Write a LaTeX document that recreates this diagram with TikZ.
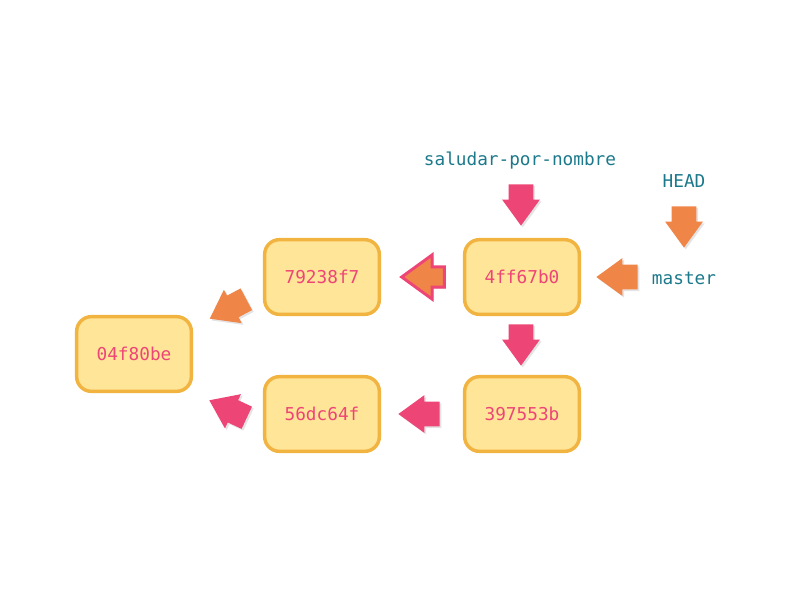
\documentclass[tikz,border=0pt]{standalone}
\usepackage{fontspec}
\setmonofont{DejaVu Sans Mono}
\usetikzlibrary{shapes.arrows,shadows}

\definecolor{commitfill}{HTML}{FFE598}
\definecolor{commitline}{HTML}{F2B441}
\definecolor{commitpink}{HTML}{EE4577}
\definecolor{arroworange}{HTML}{F08548}
\definecolor{labelteal}{HTML}{1C798B}

\tikzset{
    commit/.style={draw=commitline,fill=commitfill,line width=2.6pt,rounded corners=11pt,
        minimum width=86pt,minimum height=56pt,text=commitpink,
        font=\ttfamily\fontsize{13.3}{16}\selectfont},
    reflabel/.style={text=labelteal,font=\ttfamily\fontsize{13.3}{16}\selectfont},
    blockarrow/.style={single arrow,draw=none,inner xsep=0pt,inner ysep=9pt,minimum height=31pt,
        single arrow head extend=5pt,single arrow tip angle=72,
        drop shadow={shadow xshift=1.3pt,shadow yshift=-1.3pt,opacity=.22}},
    pointdown/.style={rotate=270},
    pointleft/.style={rotate=180},
    pinkarrow/.style={blockarrow,fill=commitpink},
    orangearrow/.style={blockarrow,fill=arroworange}
}

\begin{document}
\begin{tikzpicture}[x=0.75pt,y=-0.75pt]
    \useasboundingbox (0,0) rectangle (800,600);
    % commits
    \node[commit] (c04f) at (134,354) {04f80be};
    \node[commit] (c792) at (322,277) {79238f7};
    \node[commit] (c4ff) at (522,277) {4ff67b0};
    \node[commit] (c56d) at (322,414) {56dc64f};
    \node[commit] (c397) at (522,414) {397553b};
    % references
    \node[reflabel] (saludar) at (520,161) {saludar-por-nombre};
    \node[reflabel] (head) at (684,181) {HEAD};
    \node[reflabel] (master) at (684,278) {master};
    % arrows
    \node[pinkarrow,pointdown] (asaludar) at (521,196.5) {};
    \node[orangearrow,pointdown] (ahead) at (684,218.5) {};
    \node[orangearrow,pointleft] (amaster) at (625.5,277) {};
    \node[blockarrow,pointleft,fill=arroworange,draw=commitpink,line width=2.2pt,inner ysep=6.5pt,
        minimum height=32pt,single arrow head extend=9pt] (a4ff) at (430,277) {};
    \node[pinkarrow,pointdown] (adown) at (521,336.5) {};
    \node[pinkarrow,pointleft] (a397) at (427.5,414) {};
    \node[orangearrow,rotate=208] (a792) at (235.5,305) {};
    \node[pinkarrow,rotate=155] (a56d) at (235.7,412.6) {};
\end{tikzpicture}
\end{document}
